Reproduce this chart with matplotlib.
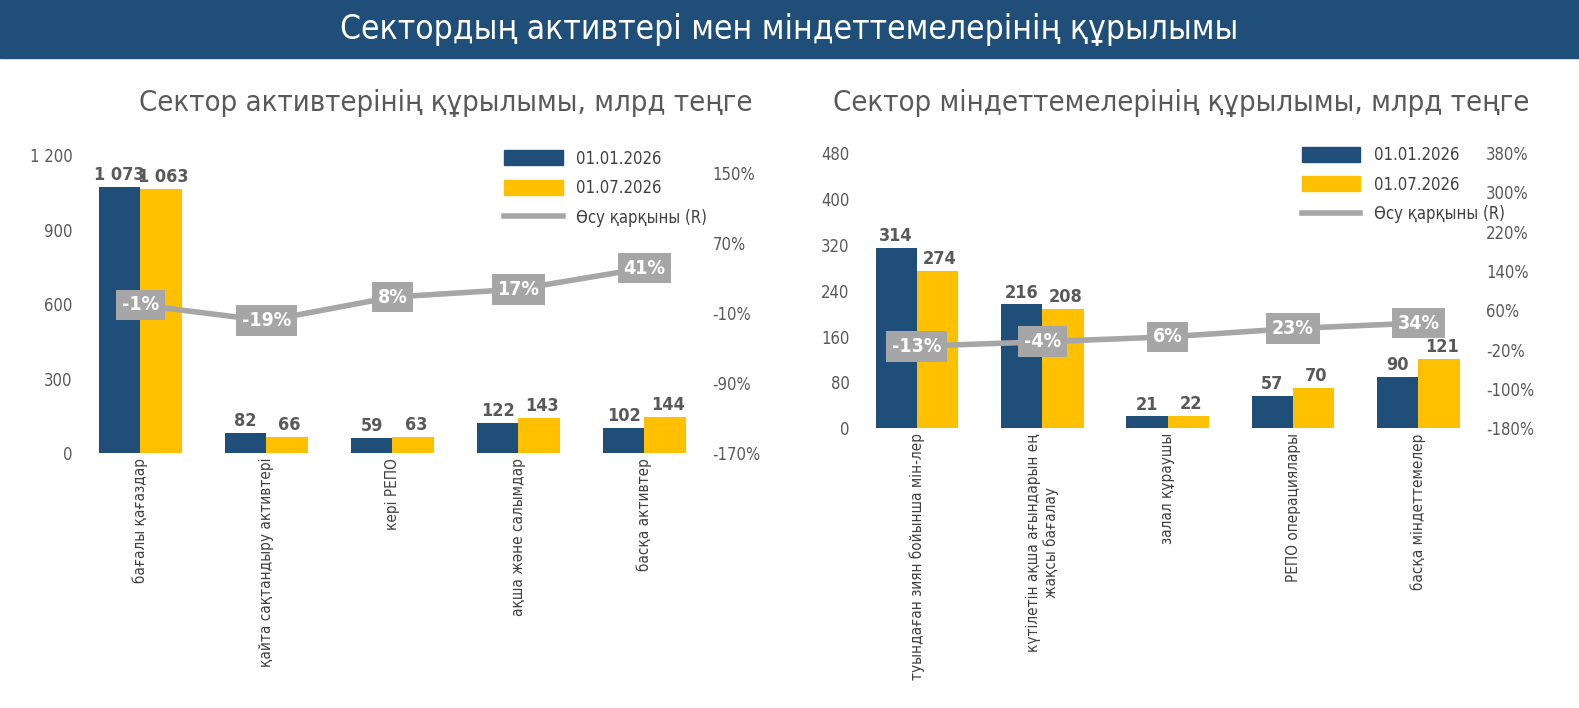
import matplotlib.pyplot as plt
import matplotlib.patches as mpatches
from matplotlib.lines import Line2D
import numpy as np

plt.rcParams['font.family'] = ['DejaVu Sans']
plt.rcParams['font.stretch'] = 'condensed'

# data
assets_cats = ["бағалы қағаздар", "қайта сақтандыру активтері", "кері РЕПО",
               "ақша және салымдар", "басқа активтер"]
assets_jan = [1073, 82, 59, 122, 102]
assets_jul = [1063, 66, 63, 143, 144]
assets_growth = [-1, -19, 8, 17, 41]

liab_cats = ["туындаған зиян бойынша мін-лер", "күтілетін ақша ағындарын ең\nжақсы бағалау",
             "залал құраушы", "РЕПО операциялары", "басқа міндеттемелер"]
liab_jan = [314, 216, 21, 57, 90]
liab_jul = [274, 208, 22, 70, 121]
liab_growth = [-13, -4, 6, 23, 34]

NAVY = "#1F4E79"
GOLD = "#FFC000"
LINE = "#A6A6A6"
TXT = "#595959"

def fmt(v):
    return f"{v:,}".replace(",", " ")

fig = plt.figure(figsize=(15.79, 7.08), dpi=100)
fig.patches.append(mpatches.Rectangle((0, 1 - 58/708), 1, 58/708, transform=fig.transFigure,
                                      color=NAVY, zorder=0))
fig.text(0.5, 1 - 29/708, "Сектордың активтері мен міндеттемелерінің құрылымы",
         color="white", fontsize=24, ha="center", va="center")


def draw(rect, cats, jan, jul, growth, ylim, yticks, rlim, rticks, title, title_x, leg_anchor):
    ax = fig.add_axes(rect)
    x = np.arange(len(cats))
    w = 0.33
    ax.bar(x - w/2, jan, w, color=NAVY)
    ax.bar(x + w/2, jul, w, color=GOLD)
    for xi, a, b in zip(x, jan, jul):
        ax.text(xi - w/2, a + ylim[1]*0.01, fmt(a), ha="center", va="bottom",
                fontsize=13, fontweight="bold", color=TXT)
        ax.text(xi + w/2 + 0.02, b + ylim[1]*0.01, fmt(b), ha="center", va="bottom",
                fontsize=13, fontweight="bold", color=TXT)
    ax.set_xlim(-0.5, len(cats) - 0.5)
    ax.set_ylim(*ylim)
    ax.set_yticks(yticks)
    ax.set_yticklabels([fmt(t) for t in yticks])
    ax.set_xticks(x)
    ax.set_xticklabels(cats, rotation=90, va="top", ha="center", fontsize=11, color="#404040")
    ax.tick_params(length=0, labelsize=12, colors=TXT)
    ax.tick_params(axis="x", colors="#404040", labelsize=11)
    for s in ax.spines.values():
        s.set_visible(False)

    ax2 = ax.twinx()
    g = np.array(growth) / 100
    ax2.plot(x, g, color=LINE, lw=4, zorder=3)
    for xi, gi in zip(x, growth):
        ax2.text(xi, gi/100, f"{gi}%", ha="center", va="center", fontsize=14,
                 fontweight="bold", color="white", zorder=4,
                 bbox=dict(boxstyle="square,pad=0.3", fc=LINE, ec="none"))
    ax2.set_ylim(*rlim)
    ax2.set_yticks(rticks)
    ax2.set_yticklabels([f"{round(t*100)}%" for t in rticks])
    ax2.tick_params(length=0, labelsize=12, colors=TXT)
    for s in ax2.spines.values():
        s.set_visible(False)

    fig.text(title_x, 1 - 103/708, title, fontsize=21, color=TXT, ha="center", va="center")
    handles = [mpatches.Patch(color=NAVY), mpatches.Patch(color=GOLD),
               Line2D([], [], color=LINE, lw=4)]
    fig.legend(handles, ["01.01.2026", "01.07.2026", "Өсу қарқыны (R)"], loc="upper left",
               bbox_to_anchor=leg_anchor, frameon=False, fontsize=12, labelcolor="#404040",
               handlelength=3.5, handleheight=1, labelspacing=0.7)


draw([0.049, 0.360, 0.399, 0.421], assets_cats, assets_jan, assets_jul, assets_growth,
     (0, 1200), np.arange(0, 1201, 300), (-1.7, 1.7), np.arange(-1.7, 1.51, 0.8),
     "Сектор активтерінің құрылымы, млрд теңге", 0.282, (0.31, 0.81))
draw([0.541, 0.395, 0.397, 0.389], liab_cats, liab_jan, liab_jul, liab_growth,
     (0, 480), np.arange(0, 481, 80), (-1.8, 3.8), np.arange(-1.8, 3.81, 0.8),
     "Сектор міндеттемелерінің құрылымы, млрд теңге", 0.748, (0.815, 0.815))

fig.savefig("out.png", dpi=100)
